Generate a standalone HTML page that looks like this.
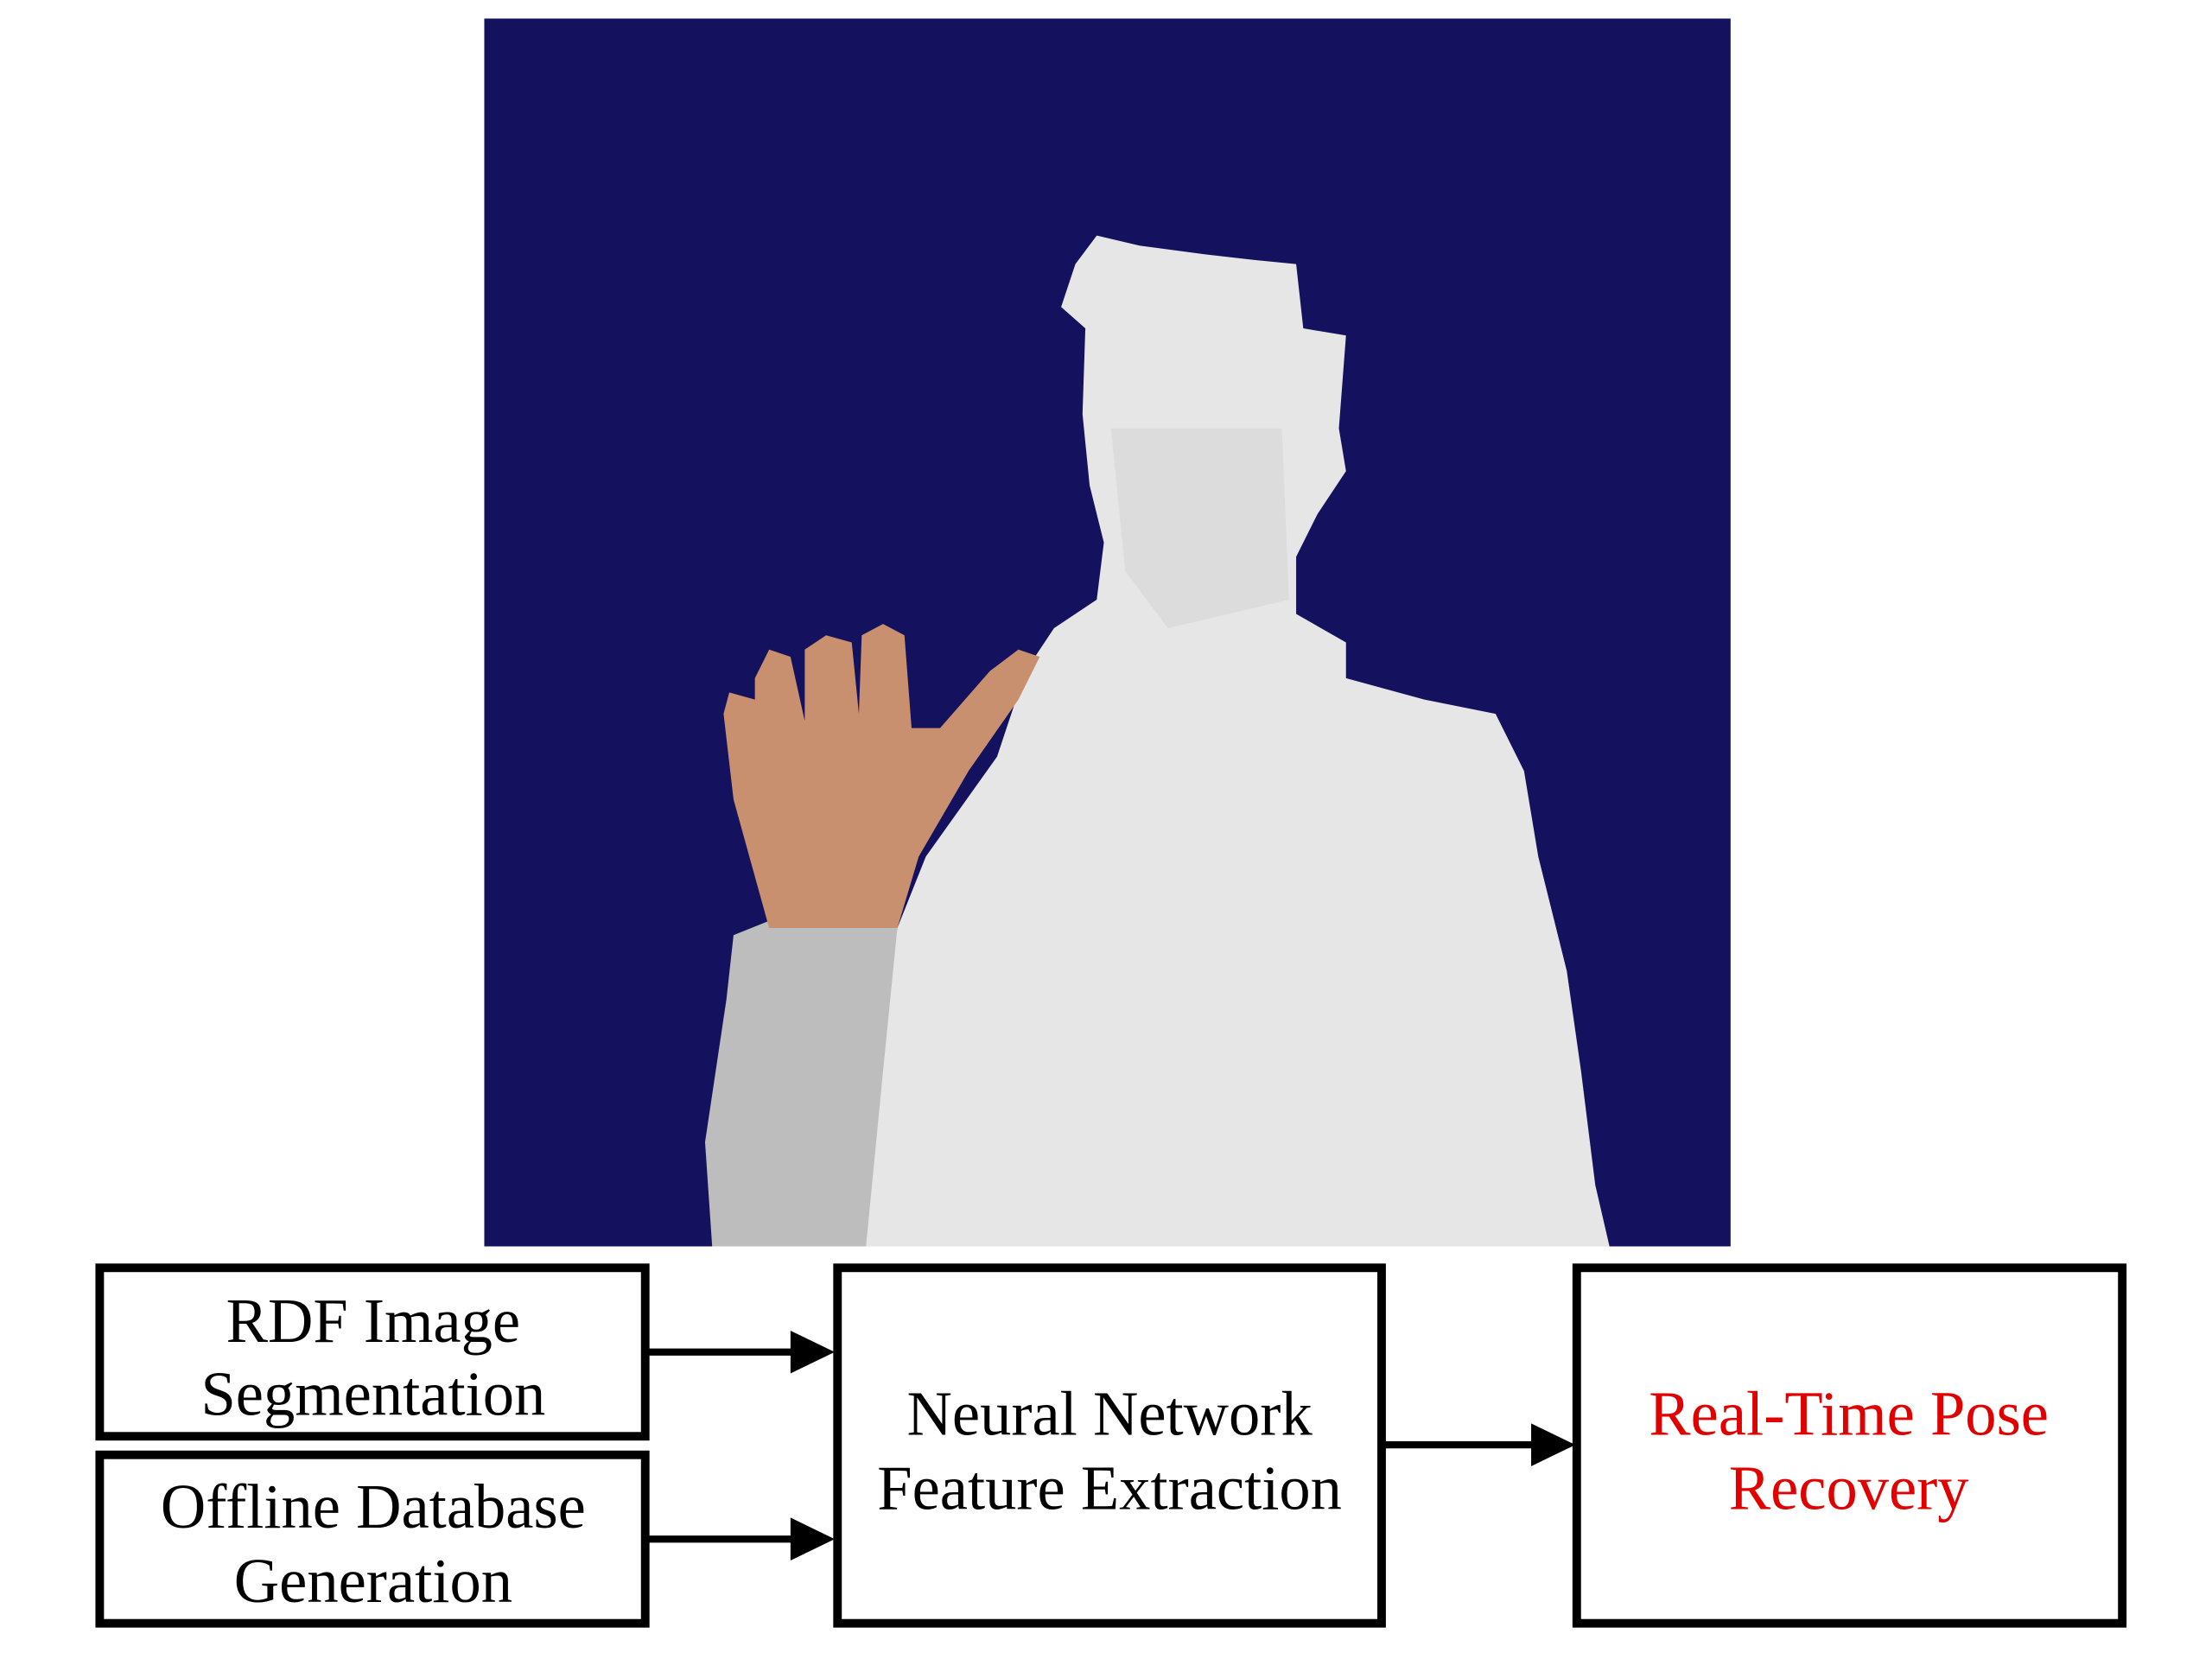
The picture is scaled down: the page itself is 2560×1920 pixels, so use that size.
<!DOCTYPE html>
<html><head><style>html,body{margin:0;padding:0;background:#fff;width:2560px;height:1920px;overflow:hidden}</style></head>
<body>
<svg width="2560" height="1920" viewBox="0 0 1553 1162" preserveAspectRatio="none" xmlns="http://www.w3.org/2000/svg">
<rect x="0" y="0" width="1553" height="1162" fill="#fff"/>
<rect x="340" y="13" width="875" height="860" fill="#14115e"/>
<polygon fill="#e6e6e6" points="755,185 770,165 800,172 845,178 880,182 910,185 915,230 945,235 940,300 945,330 925,360 910,390 910,430 945,450 945,475 1000,490 1050,500 1070,540 1080,600 1100,680 1110,750 1120,830 1130,873 605,873 610,800 620,700 630,650 650,600 700,530 720,470 740,440 770,420 775,380 765,340 760,290 762,230 745,215"/>
<polygon fill="#bdbdbd" points="540,645 630,650 620,750 608,873 500,873 495,800 510,700 515,655"/>
<polygon fill="#dcdcdc" points="780,300 900,300 905,420 820,440 790,400"/>
<path fill="#c8906e" d="M540,650 L630,650 L645,600 L680,540 L715,490 L730,460 L715,455 L695,470 L660,510 L640,510 L635,445 L620,437 L605,445 L603,500 L598,450 L580,445 L565,455 L565,505 L555,460 L540,455 L530,475 L530,490 L512,485 L508,500 L515,560 Z"/>
<g fill="#fff" stroke="#000" stroke-width="6">
<rect x="70" y="888" width="383" height="118"/>
<rect x="70" y="1019" width="383" height="118"/>
<rect x="588" y="888" width="382" height="249"/>
<rect x="1107" y="888" width="383" height="249"/>
</g>
<g stroke="#000" stroke-width="5">
<line x1="453" y1="947" x2="560" y2="947"/>
<line x1="453" y1="1078" x2="560" y2="1078"/>
<line x1="970" y1="1012" x2="1080" y2="1012"/>
</g>
<g fill="#000">
<polygon points="555,932 586,947 555,962"/>
<polygon points="555,1063 586,1078 555,1093"/>
<polygon points="1075,997 1106,1012 1075,1027"/>
</g>
<g font-family="Liberation Serif, serif" font-size="44" text-anchor="middle" fill="#000">
<text x="262" y="940">RDF Image</text>
<text x="262" y="991">Segmentation</text>
<text x="262" y="1070">Offline Database</text>
<text x="262" y="1122">Generation</text>
<text x="779" y="1005">Neural Network</text>
<text x="779" y="1057">Feature Extraction</text>
<text x="1298" y="1005" fill="#e00000">Real-Time Pose</text>
<text x="1298" y="1057" fill="#e00000">Recovery</text>
</g>
</svg>
</body></html>
